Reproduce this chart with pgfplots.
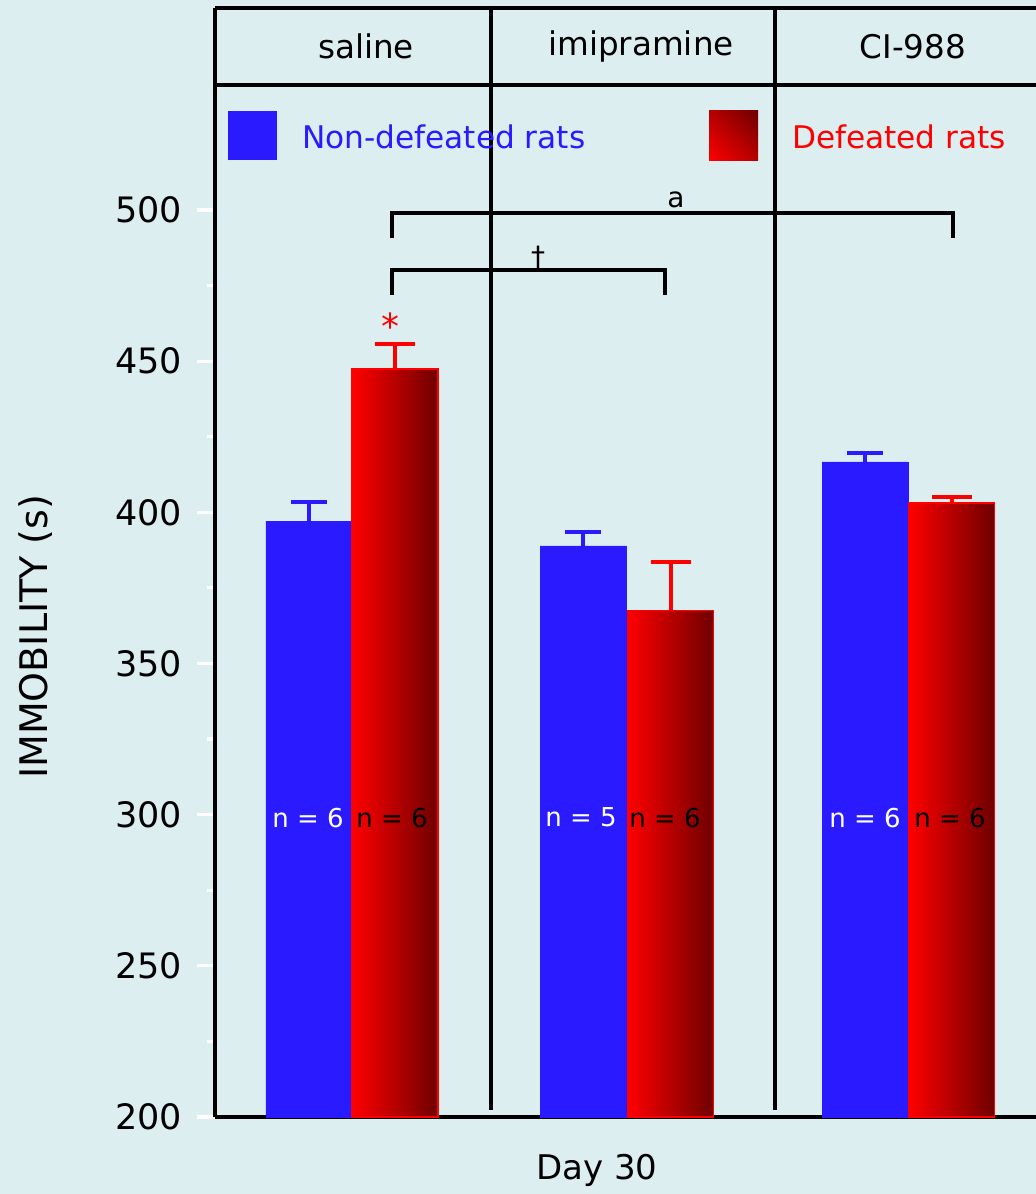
\documentclass[border=0pt]{standalone}
\usepackage{pgfplots}
\pgfplotsset{compat=1.18}
\usetikzlibrary{shadings}
\usepackage{fontspec}
\setmainfont{DejaVu Sans}
\definecolor{bg}{RGB}{221,238,241}
\definecolor{barblue}{RGB}{42,26,255}
\definecolor{barred}{RGB}{255,0,0}
\definecolor{bardark}{RGB}{110,0,0}
\definecolor{barmid}{RGB}{182,0,0}
\begin{document}
\begin{tikzpicture}
\fill[bg] (0pt,0pt) rectangle (518pt,597pt);
\useasboundingbox (0pt,0pt) rectangle (518pt,597pt);
\begin{axis}[
  at={(107.5pt,38.5pt)}, anchor=south west,
  scale only axis, width=410.5pt, height=554.5pt,
  xmin=215, xmax=1036, ymin=200, ymax=566.8,
  clip=false,
  axis lines*=left,
  axis line style={line width=2pt, black},
  xtick=\empty,
  ytick={200,250,300,350,400,450,500},
  minor ytick={225,275,325,375,425,475},
  tick align=outside,
  major tick length=9pt,
  minor tick length=4pt,
  every tick/.style={white, line width=1.6pt},
  /pgf/number format/assume math mode=true,
  yticklabel style={font=\fontsize{17.5}{20}\selectfont, black, xshift=-4pt},
  ylabel={IMMOBILITY (s)},
  ylabel style={at={(axis description cs:-0.219,0.433)}, anchor=center, font=\fontsize{19}{22}\selectfont},
  xlabel={Day 30},
  xlabel style={at={(axis description cs:0.465,-0.048)}, anchor=center, font=\fontsize{17}{20}\selectfont},
  redbar/.style={ybar, bar width=86, bar shift=0pt, draw=barred, line width=0.6pt,
    left color=barred, right color=bardark, forget plot},
]
% blue bars (non-defeated)
\addplot[ybar, bar width=86, bar shift=0pt, fill=barblue, draw=barblue, line width=0.3pt,
  error bars/.cd, y dir=plus, y explicit,
  error bar style={draw=barblue, line width=2pt},
  error mark options={rotate=90, mark size=9pt, line width=2pt, draw=barblue}]
  coordinates {(309,397.0) +- (0,6.4) (583,388.9) +- (0,4.6) (865,416.7) +- (0,2.9)};
% red bars (defeated), one plot per bar so each bar gets its own gradient
\addplot[redbar] coordinates {(395,447.4)};
\addplot[redbar] coordinates {(670.5,367.4)};
\addplot[redbar] coordinates {(951.5,403.1)};
% red error bars
\addplot[draw=none, mark=none, forget plot,
  error bars/.cd, y dir=plus, y explicit,
  error bar style={draw=barred, line width=2pt},
  error mark options={rotate=90, mark size=10pt, line width=2pt, draw=barred}]
  coordinates {(395,447.4) +- (0,8.3) (670.5,367.4) +- (0,16.2) (951.5,403.1) +- (0,2.0)};
% frame lines
\draw[line width=2pt] (axis cs:215,566.8) -- (axis cs:1036,566.8);
\draw[line width=2pt] (axis cs:215,541.4) -- (axis cs:1036,541.4);
\draw[line width=2pt] (axis cs:491,566.8) -- (axis cs:491,202.3);
\draw[line width=2pt] (axis cs:775,566.8) -- (axis cs:775,202.3);
% header
\node[font=\fontsize{16.3}{19}\selectfont] at (axis cs:366,554) {saline};
\node[font=\fontsize{16.3}{19}\selectfont] at (axis cs:641,554) {imipramine};
\node[font=\fontsize{16.3}{19}\selectfont] at (axis cs:913,554) {CI-988};
% legend
\fill[barblue] (axis cs:228,516.6) rectangle (axis cs:277,532.8);
\shade[lower left=barred, upper right=bardark, upper left=barmid, lower right=barmid] (axis cs:709,516.3) rectangle (axis cs:758,532.8);
\node[anchor=west, text=barblue, font=\fontsize{15.6}{18}\selectfont] at (axis cs:295,524.2) {Non-defeated rats};
\node[anchor=west, text=barred, font=\fontsize{15.6}{18}\selectfont] at (axis cs:785,524.2) {Defeated rats};
% significance brackets
\draw[line width=2pt] (axis cs:392,490.8) -- (axis cs:392,499) -- (axis cs:953,499) -- (axis cs:953,490.8);
\node[anchor=south, font=\fontsize{14}{16}\selectfont, inner sep=1pt] at (axis cs:676,500) {a};
\draw[line width=2pt] (axis cs:392,471.9) -- (axis cs:392,480.2) -- (axis cs:665,480.2) -- (axis cs:665,471.9);
\node[anchor=south, font=\fontsize{14}{16}\selectfont, inner sep=0pt] at (axis cs:538,480.2) {†};
\node[text=barred, font=\fontsize{18}{20}\selectfont] at (axis cs:390,461.5) {*};
% n labels
\node[text=white, font=\fontsize{13}{15}\selectfont] at (axis cs:308,299) {n = 6};
\node[text=black, font=\fontsize{13}{15}\selectfont] at (axis cs:392,299) {n = 6};
\node[text=white, font=\fontsize{13}{15}\selectfont] at (axis cs:581,299) {n = 5};
\node[text=black, font=\fontsize{13}{15}\selectfont] at (axis cs:665,299) {n = 6};
\node[text=white, font=\fontsize{13}{15}\selectfont] at (axis cs:865,299) {n = 6};
\node[text=black, font=\fontsize{13}{15}\selectfont] at (axis cs:950,299) {n = 6};
\end{axis}
\end{tikzpicture}
\end{document}
